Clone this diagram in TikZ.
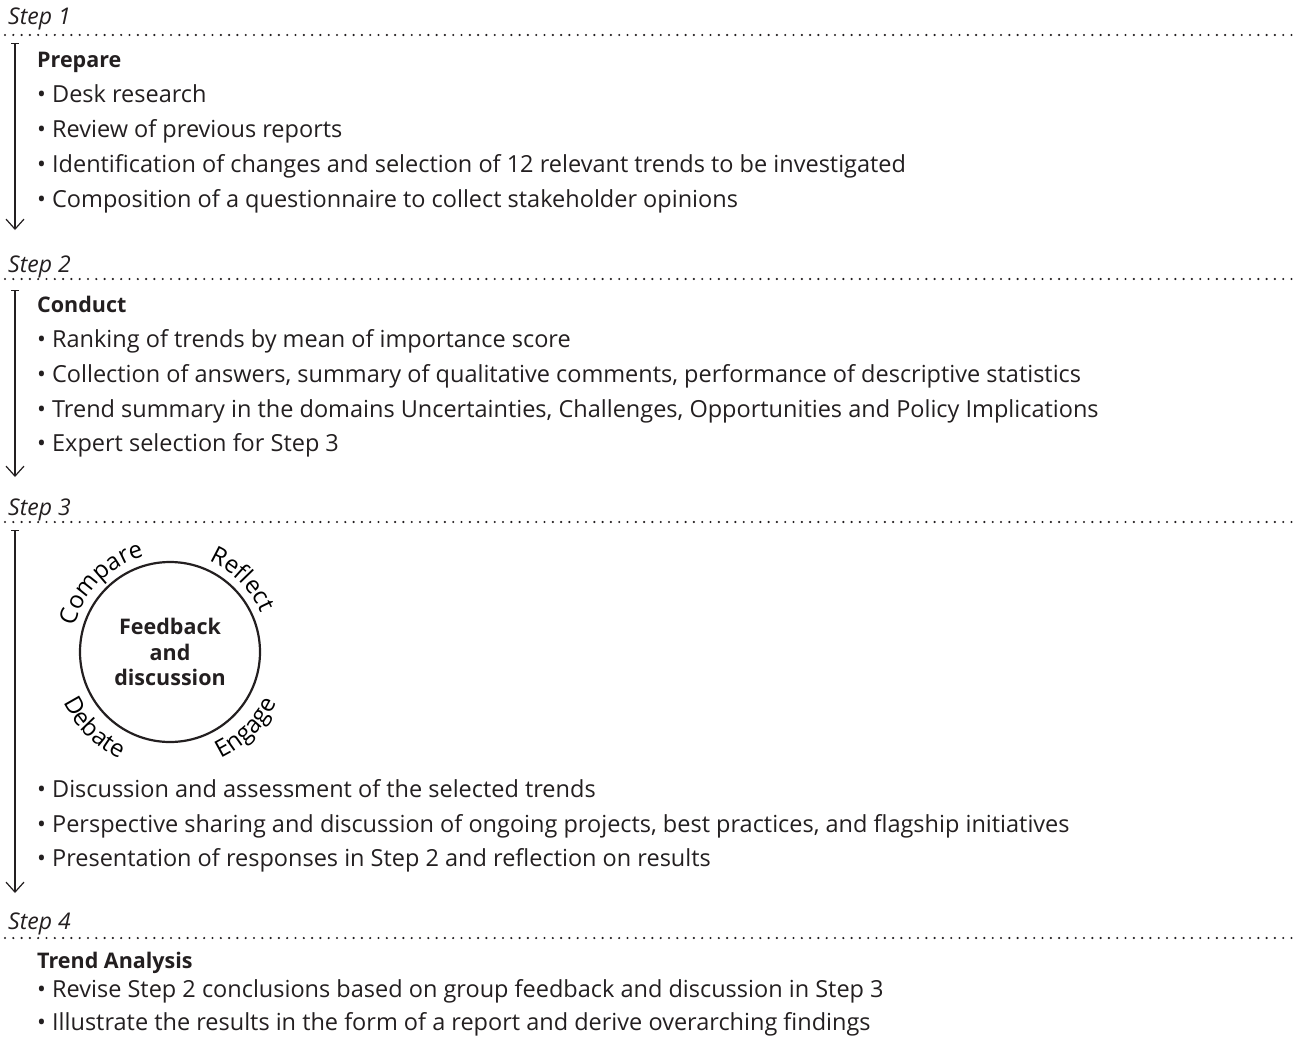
\documentclass[tikz,border=0pt]{standalone}
\usepackage{fontspec}
\setmainfont{Open Sans}
\usetikzlibrary{arrows.meta,decorations.text}
\definecolor{inkgray}{HTML}{231F20}

\begin{document}
\begin{tikzpicture}[x=1pt, y=-1pt,
    every node/.style={text=inkgray, inner sep=0pt, font=\fontsize{23.5}{28}\selectfont},
    steplabel/.style={anchor=base west, font=\fontsize{23}{28}\selectfont\itshape},
    headline/.style={anchor=base west, font=\fontsize{21.5}{26}\selectfont\bfseries},
    itemline/.style={anchor=base west},
    dotline/.style={draw=inkgray, line width=2.4pt, line cap=round, dash pattern=on 0pt off 8.3pt},
    steparrow/.style={draw=inkgray, line width=1.2pt, {Bar[width=8pt]}-{Straight Barb[length=10pt,width=18pt]}},
    roundword/.style={color=inkgray, decorate, decoration={text along path, text align=center, text={|\fontsize{24}{28}\selectfont|#1}}}]
    \useasboundingbox (0,0) rectangle (1298,1046);

    % Step 1
    \node[steplabel] (step1) at (8,25) {Step 1};
    \coordinate (d1a) at (5,35);
    \coordinate (d1b) at (1293,35);
    \draw[dotline] (d1a) -- (d1b);
    \coordinate (a1top) at (15,43);
    \coordinate (a1end) at (15,230);
    \draw[steparrow] (a1top) -- (a1end);
    \node[headline] (prepare) at (37,68) {Prepare};
    \node[itemline] (p1) at (37,103) {• Desk research};
    \node[itemline] (p2) at (37,138) {• Review of previous reports};
    \node[itemline] (p3) at (37,172) {• Identification of changes and selection of 12 relevant trends to be investigated};
    \node[itemline] (p4) at (37,207) {• Composition of a questionnaire to collect stakeholder opinions};

    % Step 2
    \node[steplabel] (step2) at (8,272) {Step 2};
    \coordinate (d2a) at (5,279);
    \coordinate (d2b) at (1293,279);
    \draw[dotline] (d2a) -- (d2b);
    \coordinate (a2top) at (15,290);
    \coordinate (a2end) at (15,477);
    \draw[steparrow] (a2top) -- (a2end);
    \node[headline] (conduct) at (37,312) {Conduct};
    \node[itemline] (c1) at (37,347) {• Ranking of trends by mean of importance score};
    \node[itemline] (c2) at (37,382) {• Collection of answers, summary of qualitative comments, performance of descriptive statistics};
    \node[itemline] (c3) at (37,417) {• Trend summary in the domains Uncertainties, Challenges, Opportunities and Policy Implications};
    \node[itemline] (c4) at (37,451) {• Expert selection for Step 3};

    % Step 3
    \node[steplabel] (step3) at (8,515) {Step 3};
    \coordinate (d3a) at (5,522);
    \coordinate (d3b) at (1293,522);
    \draw[dotline] (d3a) -- (d3b);
    \coordinate (a3top) at (15,530);
    \coordinate (a3end) at (15,893);
    \draw[steparrow] (a3top) -- (a3end);
    \node[circle, draw=inkgray, line width=2.2pt, minimum size=180pt, align=center,
          font=\fontsize{21.5}{25.5}\selectfont\bfseries] (fb) at (170,652) {Feedback\\and\\discussion};
    \begin{scope}[shift={(fb.center)}, y=1pt]
        \path[roundword=Compare] (180:99) arc[start angle=180, end angle=90, radius=99];
        \path[roundword=Reflect] (90:99) arc[start angle=90, end angle=0, radius=99];
        \path[roundword=Debate] (180:118) arc[start angle=180, end angle=270, radius=118];
        \path[roundword=Engage] (270:118) arc[start angle=270, end angle=360, radius=118];
    \end{scope}
    \node[itemline] (f1) at (37,797) {• Discussion and assessment of the selected trends};
    \node[itemline] (f2) at (37,832) {• Perspective sharing and discussion of ongoing projects, best practices, and flagship initiatives};
    \node[itemline] (f3) at (37,866) {• Presentation of responses in Step 2 and reflection on results};

    % Step 4
    \node[steplabel] (step4) at (8,929) {Step 4};
    \coordinate (d4a) at (5,938);
    \coordinate (d4b) at (1293,938);
    \draw[dotline] (d4a) -- (d4b);
    \node[headline] (trend) at (37,968) {Trend Analysis};
    \node[itemline] (t1) at (37,997) {• Revise Step 2 conclusions based on group feedback and discussion in Step 3};
    \node[itemline] (t2) at (37,1030) {• Illustrate the results in the form of a report and derive overarching findings};
\end{tikzpicture}
\end{document}
